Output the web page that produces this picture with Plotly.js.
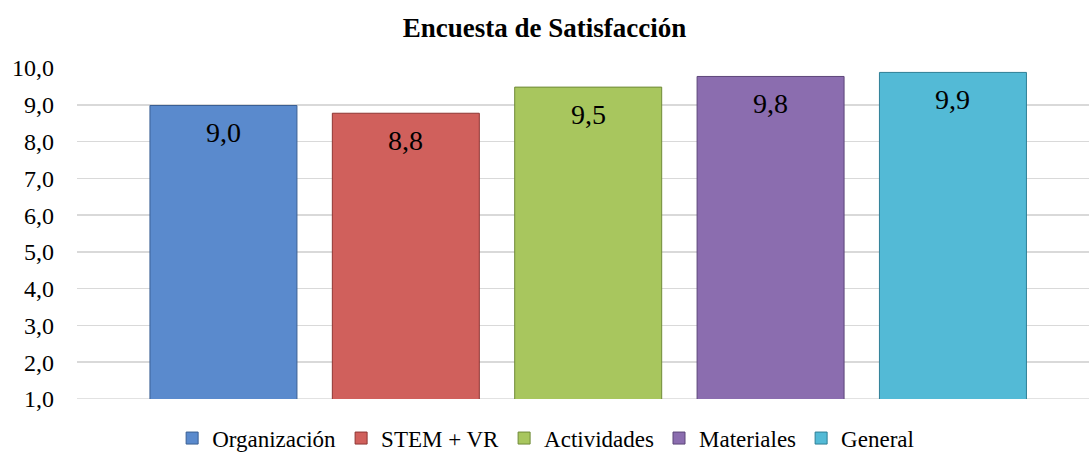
<!DOCTYPE html>
<html>
<head>
<meta charset="utf-8">
<script src="https://cdn.plot.ly/plotly-3.0.1.min.js"></script>
<style>html,body{margin:0;padding:0;background:#fff;}#chart{width:1089px;height:454px;}</style>
</head>
<body>
<div id="chart"></div>
<script>
const categories = ['Organización', 'STEM + VR', 'Actividades', 'Materiales', 'General'];
const values = [8.98, 8.77, 9.48, 9.77, 9.88];
const labels = ['9,0', '8,8', '9,5', '9,8', '9,9'];
const colors = ['#5A8ACD', '#D0605C', '#A8C65E', '#8B6DAF', '#53BAD6'];
const edgeColors = ['#3A5F93', '#8E3533', '#6F8A38', '#5C4679', '#2E7F96'];
const yTicks = [1, 2, 3, 4, 5, 6, 7, 8, 9, 10];
const SERIF = 'Liberation Serif, Times New Roman, serif';

const traces = categories.map((c, i) => ({
  type: 'bar',
  name: c,
  x: [i],
  y: [values[i]],
  hoverinfo: 'none',
  width: 0.806,
  marker: {color: colors[i], line: {color: edgeColors[i], width: 1}}
}));

const annotations = categories.map((c, i) => ({
  x: i, y: values[i], xref: 'x', yref: 'y',
  text: labels[i], showarrow: false,
  yanchor: 'middle', xanchor: 'center', yshift: -27,
  font: {family: SERIF, size: 28, color: '#000'}
}));

const layout = {
  width: 1089, height: 454,
  margin: {l: 77, r: 0, t: 68, b: 55, autoexpand: false},
  paper_bgcolor: '#fff', plot_bgcolor: '#fff',
  separators: ', ',
  showlegend: true,
  barmode: 'overlay',
  title: {text: '<b>Encuesta de Satisfacción</b>', x: 0.5, xanchor: 'center', y: 0.94, yanchor: 'middle',
          font: {family: SERIF, size: 27, color: '#000'}},
  font: {family: SERIF, color: '#000', size: 24},
  xaxis: {range: [-0.803, 4.746], showticklabels: false, showgrid: false, zeroline: false,
          showline: false, fixedrange: true},
  yaxis: {range: [1, 10], tickvals: yTicks, ticktext: yTicks.map(v => v.toFixed(1).replace('.', ',')),
          showgrid: true, gridcolor: '#D9D9D9', gridwidth: 1.5, zeroline: false,
          showline: false, ticks: '', ticklen: 0, ticklabelstandoff: 22,
          tickfont: {family: SERIF, size: 24, color: '#000'}},
  legend: {orientation: 'h', x: 0.094, xanchor: 'left', yref: 'container', y: 0.035, yanchor: 'middle',
           font: {family: SERIF, size: 23, color: '#000'},
           itemwidth: 30, traceorder: 'normal'},
  annotations: annotations,
  shapes: [{type: 'line', xref: 'paper', yref: 'y', x0: 0, x1: 1, y0: 1, y1: 1,
            line: {color: '#D9D9D9', width: 1.5}, layer: 'below'}]
};

Plotly.newPlot('chart', traces, layout, {displayModeBar: false, staticPlot: true});
</script>
</body>
</html>
